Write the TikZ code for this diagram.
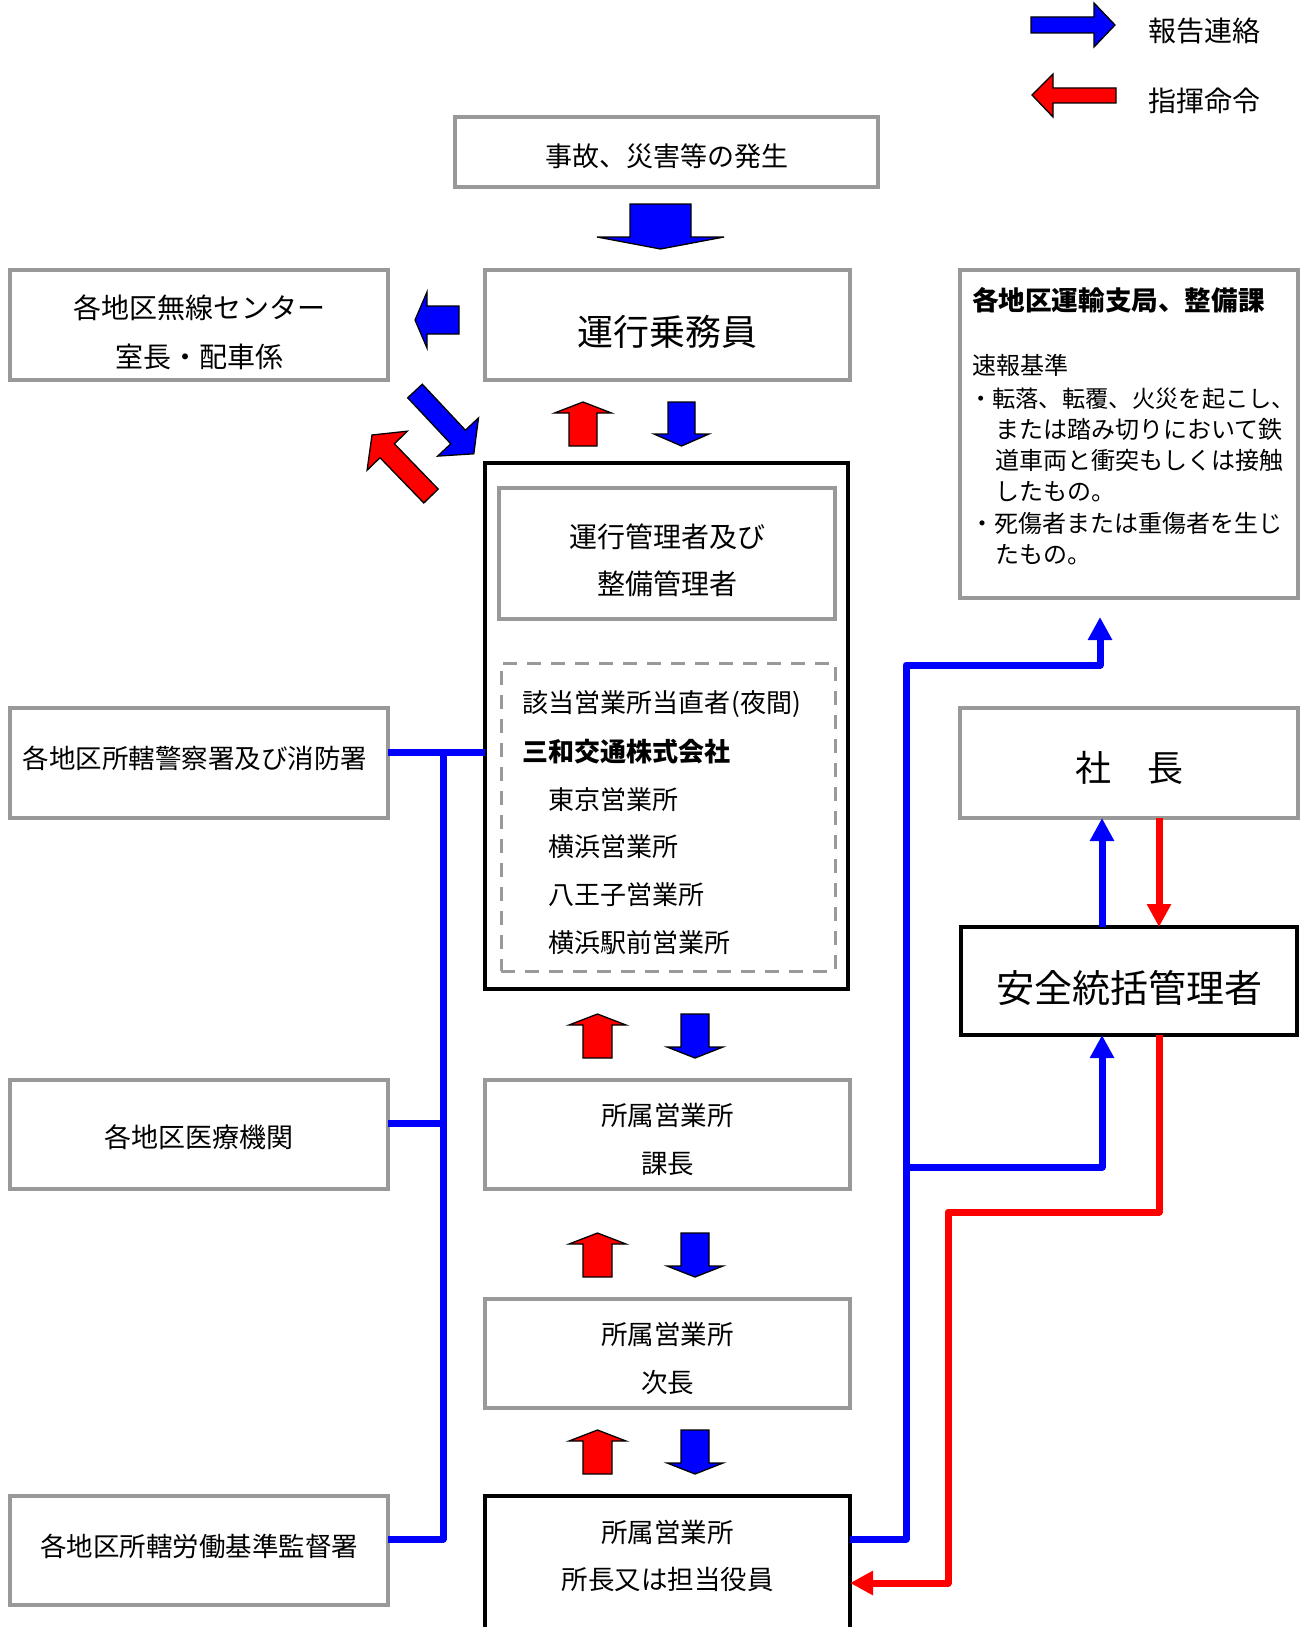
\documentclass[tikz,border=0pt]{standalone}
\usepackage{fontspec}
\setmainfont{Noto Sans CJK JP}
\usetikzlibrary{arrows.meta}
\definecolor{gbox}{HTML}{999999}
\definecolor{pblue}{RGB}{0,0,255}
\definecolor{pred}{RGB}{255,0,0}
\tikzset{
  box/.style={draw=gbox, line width=4pt, inner sep=0pt, outer sep=0pt, rectangle},
  kbox/.style={draw=black, line width=4pt, inner sep=0pt, outer sep=0pt, rectangle},
  dbox/.style={draw=gbox, line width=3pt, dash pattern=on 14pt off 10pt, inner sep=0pt, outer sep=0pt, rectangle},
  txc/.style={inner sep=0pt, outer sep=0pt, anchor=base},
  txl/.style={inner sep=0pt, outer sep=0pt, anchor=base west},
  fsz/.style={font=\fontsize{#1}{#1}\selectfont},
  bline/.style={draw=pblue, line width=7pt, line join=round},
  rline/.style={draw=pred, line width=7pt, line join=round},
  tipA/.style={-{Triangle[length=23pt,width=23pt]}},
  barrowB/.style={fill=pblue, draw=black, line width=1.3pt, line join=miter},
  barrowR/.style={fill=pred, draw=black, line width=1.3pt, line join=miter},
}
\begin{document}
\begin{tikzpicture}[x=1pt,y=-1pt]
\fill[white] (0,0) rectangle (1301,1627);
\useasboundingbox (0,0) rectangle (1301,1627);

% legend
\draw[barrowB] (1031,17)--(1094,17)--(1094,3)--(1115,25)--(1094,47)--(1094,33)--(1031,33)--cycle;
\draw[barrowR] (1116,88)--(1053,88)--(1053,74)--(1032,95)--(1053,117)--(1053,103)--(1116,103)--cycle;
\node[txl, fsz=28] (legB) at (1148,41.4) {報告連絡};
\node[txl, fsz=28] (legR) at (1148,111.4) {指揮命令};

% top event box
\node[box, minimum width=423pt, minimum height=70pt] (jiko) at (666.5,152) {};
\node[txc, fsz=27] (jikoT) at (666.5,166) {事故、災害等の発生};
\draw[barrowB] (630,204)--(691,204)--(691,237)--(724,237)--(660.5,249)--(597,237)--(630,237)--cycle;

% driver
\node[box, minimum width=365pt, minimum height=110pt] (unko) at (667.5,325) {};
\node[txc, fsz=36] (unkoT) at (667.5,345.3) {運行乗務員};

% radio center
\node[box, minimum width=378pt, minimum height=110pt] (musen) at (199,325) {};
\node[txc, fsz=28] (musenT1) at (199,318.4) {各地区無線センター};
\node[txc, fsz=28] (musenT2) at (199,367.4) {室長・配車係};
\draw[barrowB] (459,306)--(459,334)--(427,334)--(427,348)--(415,320)--(427,292)--(427,306)--cycle;

% diagonal arrows
\draw[barrowB] (422.3,384.2)--(465.4,430.2)--(478.5,417.9)--(473.8,453.8)--(437.7,456.1)--(450.8,443.8)--(407.7,397.8)--cycle;
\draw[barrowR] (438.2,489.1)--(394.4,443.8)--(407.3,431.2)--(372,435)--(367.1,470.2)--(380.0,457.7)--(423.8,503.0)--cycle;

% pair 1
\draw[barrowR] (569,446)--(569,413)--(554.5,413)--(583,402)--(611.5,413)--(597,413)--(597,446)--cycle;
\draw[barrowB] (668,402)--(695,402)--(695,434)--(709,434)--(681.5,446)--(654,434)--(668,434)--cycle;

% big manager box
\node[kbox, minimum width=363pt, minimum height=526pt] (big) at (666.5,726) {};
\node[box, minimum width=336pt, minimum height=131pt] (kanri) at (667,553.5) {};
\node[txc, fsz=28] (kanriT1) at (667,547.4) {運行管理者及び};
\node[txc, fsz=28] (kanriT2) at (667,594.4) {整備管理者};
\node[dbox, minimum width=334pt, minimum height=308pt] (tochoku) at (668,817) {};
\node[txl, fsz=26] (toT1) at (522,712.6) {該当営業所当直者\kern2pt(夜間)};
\node[txl, fsz=26, font=\fontsize{26}{26}\selectfont\bfseries] (toT2) at (522,761.6) {三和交通株式会社};
\node[txl, fsz=26] (toT3) at (548,809.6) {東京営業所};
\node[txl, fsz=26] (toT4) at (548,856.6) {横浜営業所};
\node[txl, fsz=26] (toT5) at (548,904.6) {八王子営業所};
\node[txl, fsz=26] (toT6) at (548,952.6) {横浜駅前営業所};

% pairs 2-4
\foreach \t in {1014,1233,1430}{
  \draw[barrowR] (583,\t+44)--(583,\t+11)--(569,\t+11)--(597.5,\t)--(626,\t+11)--(612,\t+11)--(612,\t+44)--cycle;
  \draw[barrowB] (681,\t)--(709,\t)--(709,\t+33)--(723,\t+33)--(695,\t+44)--(667,\t+33)--(681,\t+33)--cycle;
}

% office boxes
\node[box, minimum width=365pt, minimum height=109pt] (kacho) at (667.5,1134.5) {};
\node[txc, fsz=26.5] (kachoT1) at (667.5,1125.8) {所属営業所};
\node[txc, fsz=26.5] (kachoT2) at (667.5,1173.8) {課長};
\node[box, minimum width=365pt, minimum height=109pt] (jicho) at (667.5,1353.5) {};
\node[txc, fsz=26.5] (jichoT1) at (667.5,1344.8) {所属営業所};
\node[txc, fsz=26.5] (jichoT2) at (667.5,1392.8) {次長};
\node[kbox, minimum width=365pt, minimum height=150pt] (shocho) at (667.5,1571) {};
\node[txc, fsz=26.5] (shochoT1) at (667.5,1542.8) {所属営業所};
\node[txc, fsz=26.5] (shochoT2) at (667.5,1589.8) {所長又は担当役員};

% left boxes
\node[box, minimum width=378pt, minimum height=110pt] (police) at (199,763) {};
\node[txc, fsz=26.5] (policeT) at (195,768.8) {各地区所轄警察署及び消防署};
\node[box, minimum width=378pt, minimum height=109pt] (iryo) at (199,1134.5) {};
\node[txc, fsz=27] (iryoT) at (199,1147) {各地区医療機関};
\node[box, minimum width=378pt, minimum height=109pt] (rodo) at (199,1550.5) {};
\node[txc, fsz=26.5] (rodoT) at (199,1556.8) {各地区所轄労働基準監督署};

% right boxes
\node[box, minimum width=338pt, minimum height=328pt] (kyoku) at (1129,434) {};
\node[txl, fsz=26.6, font=\fontsize{26.6}{26.6}\selectfont\bfseries] (kyokuT) at (972,310.8) {各地区運輸支局、整備課};
\node[txl, fsz=24] (kyT1) at (972,374.9) {速報基準};
\node[txl, fsz=23.3] (kyT2) at (969,407.6) {・転落、転覆、火災を起こし、};
\node[txl, fsz=24] (kyT3) at (995,438.9) {または踏み切りにおいて鉄};
\node[txl, fsz=24] (kyT4) at (995,469.9) {道車両と衝突もしくは接触};
\node[txl, fsz=24] (kyT5) at (995,500.9) {したもの。};
\node[txl, fsz=24] (kyT6) at (970,532.9) {・死傷者または重傷者を生じ};
\node[txl, fsz=24] (kyT7) at (995,563.9) {たもの。};

\node[box, minimum width=338pt, minimum height=110pt] (shacho) at (1129,763) {};
\node[txc, fsz=36] (shachoT) at (1129,781.3) {社　長};
\node[kbox, minimum width=336pt, minimum height=108pt] (anzen) at (1129,981) {};
\node[txc, fsz=38] (anzenT) at (1129,1002) {安全統括管理者};

% left blue connectors
\coordinate (lj1) at (443,752);
\coordinate (lj2) at (443,1123);
\coordinate (lj3) at (443,1539);
\draw[bline] (lj1 -| police.east) -- (lj1 -| big.west);
\draw[bline] (lj3 -| rodo.east) -- (lj3) -- (lj1);
\draw[bline] (lj2 -| iryo.east) -- (lj2);

% right connectors
\coordinate (rj1) at (906,1539);
\coordinate (rj2) at (906,665);
\coordinate (rj3) at (1100,665);
\coordinate (rj4) at (906,1167);
\coordinate (rj5) at (1102,1167);
\draw[bline, tipA, shorten >=19pt] (rj1 -| shocho.east) -- (rj1) -- (rj2) -- (rj3) -- (rj3 |- kyoku.south);
\draw[bline, tipA] (rj4) -- (rj5) -- (rj5 |- anzen.south);
\draw[bline, tipA] (rj5 |- anzen.north) -- (rj5 |- shacho.south);

\coordinate (rr1) at (1159,1212);
\coordinate (rr2) at (948,1212);
\coordinate (rr3) at (948,1583);
\draw[rline, tipA] (rr1 |- shacho.south) -- (rr1 |- anzen.north);
\draw[rline, tipA] (rr1 |- anzen.south) -- (rr1) -- (rr2) -- (rr3) -- (rr3 -| shocho.east);
\end{tikzpicture}
\end{document}
